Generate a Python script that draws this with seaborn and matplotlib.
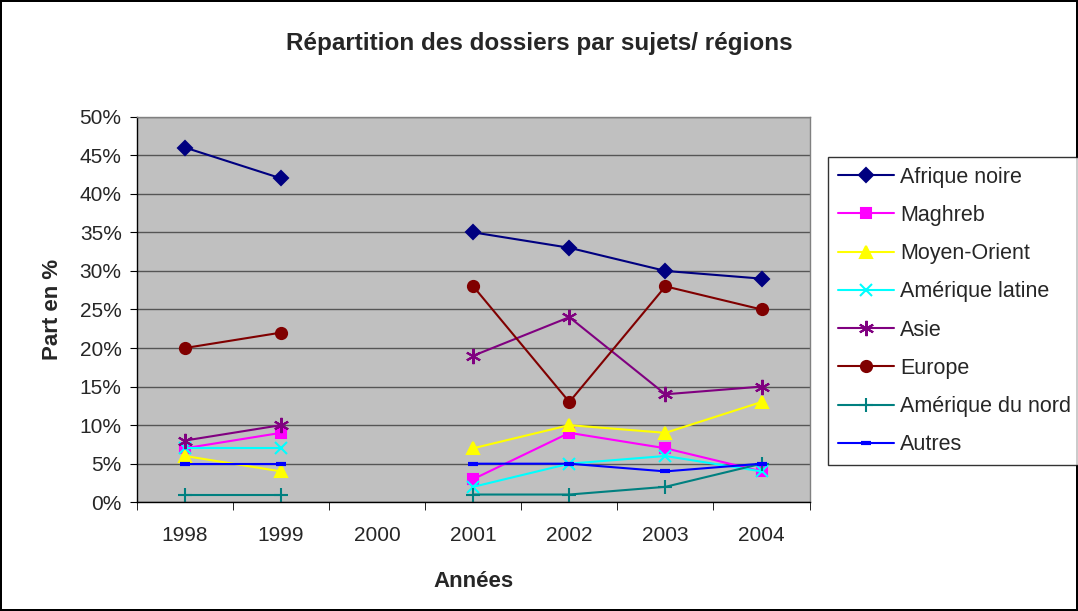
import numpy as np
import pandas as pd
import matplotlib.pyplot as plt
import seaborn as sns
from matplotlib.ticker import FuncFormatter, FixedLocator

sns.set_style("ticks")
plt.rcParams['font.family'] = ['Liberation Sans', 'DejaVu Sans']

annees = ["1998", "1999", "2000", "2001", "2002", "2003", "2004"]

afrique_noire = [46, 42, np.nan, 35, 33, 30, 29]
maghreb = [7, 9, np.nan, 3, 9, 7, 4]
moyen_orient = [6, 4, np.nan, 7, 10, 9, 13]
amerique_latine = [7, 7, np.nan, 2, 5, 6, 4]
asie = [8, 10, np.nan, 19, 24, 14, 15]
europe = [20, 22, np.nan, 28, 13, 28, 25]
amerique_nord = [1, 1, np.nan, 1, 1, 2, 5]
autres = [5, 5, np.nan, 5, 5, 4, 5]

series = [
    ("Afrique noire", afrique_noire, "#000080", "D", 7),
    ("Maghreb", maghreb, "#FF00FF", "s", 7),
    ("Moyen-Orient", moyen_orient, "#FFFF00", "^", 9),
    ("Amérique latine", amerique_latine, "#00FFFF", "x", 8),
    ("Asie", asie, "#800080", (6, 2, 0), 11),
    ("Europe", europe, "#800000", "o", 8),
    ("Amérique du nord", amerique_nord, "#008080", "+", 10),
    ("Autres", autres, "#0000FF", "_", 7),
]

fig = plt.figure(figsize=(10.78, 6.11), dpi=100)
fig.patch.set_facecolor("white")
fig.patch.set_edgecolor("black")
fig.patch.set_linewidth(1.5)
ax = fig.add_axes([0.127, 0.178, 0.624, 0.631])
ax.set_facecolor("#C0C0C0")

handles = []
for nom, vals, couleur, marq, taille in series:
    df = pd.DataFrame({"pos": range(len(annees)), "val": vals})
    # une ligne par segment, interrompue en 2000
    df["seg"] = (df["pos"] > 2).astype(int)
    df = df.dropna()
    n_avant = len(ax.lines)
    sns.lineplot(data=df, x="pos", y="val", units="seg", estimator=None,
                 color=couleur, marker=marq, markersize=taille, linewidth=1.5,
                 legend=False, ax=ax)
    nouvelles = ax.lines[n_avant:]
    for ln in nouvelles:
        ln.set_markeredgecolor(couleur)
        ln.set_markerfacecolor(couleur)
        ln.set_markeredgewidth(3 if marq == "_" else 1.5)
    nouvelles[0].set_label(nom)
    handles.append(nouvelles[0])

ax.set_xlim(-0.5, 6.5)
ax.set_ylim(0, 50)
ax.set_xticks(range(len(annees)))
ax.set_xticklabels(annees, fontsize=15)
ax.tick_params(axis="x", length=0, pad=17)
ax.xaxis.set_minor_locator(FixedLocator(np.arange(-0.5, 7, 1)))
ax.tick_params(axis="x", which="minor", length=6, direction="out", color="black")
ax.set_yticks(range(0, 51, 5))
ax.yaxis.set_major_formatter(FuncFormatter(lambda v, p: f"{int(v)}%"))
ax.tick_params(axis="y", length=5, direction="out", labelsize=15, color="black", pad=6)
ax.grid(axis="y", color="#555555", linewidth=1)
ax.grid(axis="x", visible=False)
ax.set_axisbelow(True)
for s in ["left", "bottom"]:
    ax.spines[s].set_color("black")
    ax.spines[s].set_linewidth(1)
for s in ["top", "right"]:
    ax.spines[s].set_color("#808080")
    ax.spines[s].set_linewidth(1)

ax.set_xlabel("Années", fontsize=16, fontweight="bold", labelpad=19)
ax.set_ylabel("Part en %", fontsize=16, fontweight="bold", labelpad=12)
fig.suptitle("Répartition des dossiers par sujets/ régions", fontsize=17.5,
             fontweight="bold", y=0.947)

leg = fig.legend(handles=handles, loc="upper left",
                 bbox_to_anchor=(0.768, 0.743), fontsize=15.5,
                 frameon=True, fancybox=False, borderpad=0.45,
                 labelspacing=0.8, handlelength=2.6, handletextpad=0.3,
                 borderaxespad=0)
leg.get_frame().set_edgecolor("black")
leg.get_frame().set_linewidth(1)

fig.savefig("out.png", dpi=100, facecolor=fig.get_facecolor(),
            edgecolor=fig.get_edgecolor())
